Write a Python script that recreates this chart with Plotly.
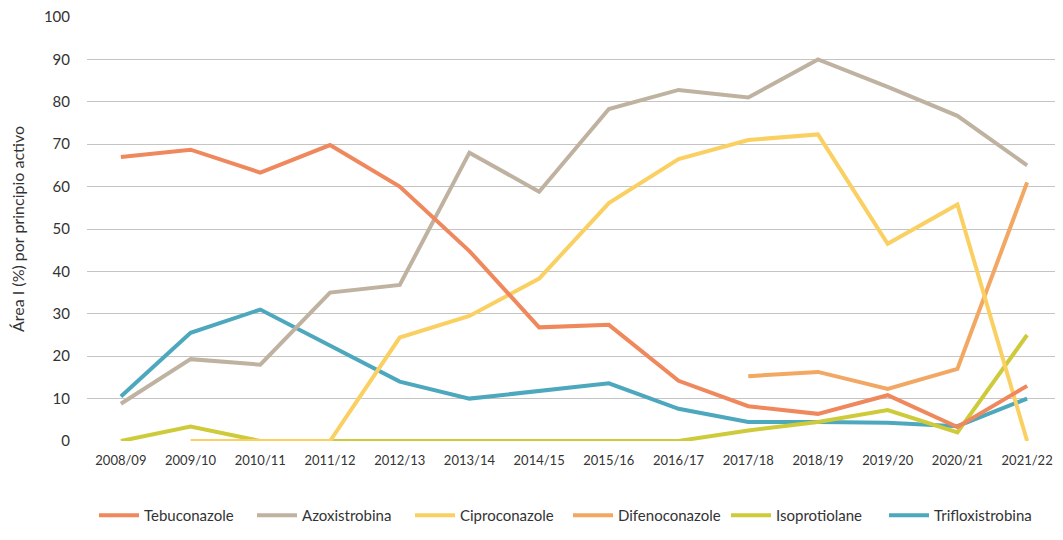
import plotly.graph_objects as go

seasons = ["2008/09", "2009/10", "2010/11", "2011/12", "2012/13", "2013/14", "2014/15",
           "2015/16", "2016/17", "2017/18", "2018/19", "2019/20", "2020/21", "2021/22"]

tebuconazole = [67.0, 68.7, 63.3, 69.8, 60.0, 44.8, 26.8, 27.4, 14.2, 8.2, 6.4, 10.8, 3.3, 13.0]
azoxistrobina = [8.8, 19.3, 18.0, 35.0, 36.8, 68.0, 58.8, 78.3, 82.8, 81.0, 90.0, 83.5, 76.7, 65.0]
ciproconazole = [None, 0, 0, 0, 24.4, 29.5, 38.3, 56.1, 66.5, 71.0, 72.3, 46.5, 55.8, 0]
difenoconazole = [None, None, None, None, None, None, None, None, None, 15.3, 16.3, 12.3, 17.0, 61.0]
isoprotiolane = [0, 3.4, 0, 0, 0, 0, 0, 0, 0, 2.5, 4.5, 7.3, 2.0, 25.0]
trifloxistrobina = [10.5, 25.5, 31.0, 22.5, 14.0, 10.0, 11.9, 13.6, 7.6, 4.5, 4.5, 4.3, 3.5, 10.0]

y_ticks = [0, 10, 20, 30, 40, 50, 60, 70, 80, 90, 100]

series = [
    ("Tebuconazole", tebuconazole, "#F0885D"),
    ("Azoxistrobina", azoxistrobina, "#BFB2A0"),
    ("Ciproconazole", ciproconazole, "#FAD062"),
    ("Difenoconazole", difenoconazole, "#F2A762"),
    ("Isoprotiolane", isoprotiolane, "#CECB3B"),
    ("Trifloxistrobina", trifloxistrobina, "#4DA8BE"),
]

fig = go.Figure()
for rank, (name, vals, col) in reversed(list(enumerate(series))):
    fig.add_trace(go.Scatter(
        x=list(range(len(seasons))), y=vals, name=name, mode="lines",
        line=dict(color=col, width=4), connectgaps=False,
        legendrank=rank + 1,
    ))

W, H = 1047, 524
L, T, B = 79, 9, 91
font_family = "Lato, 'Open Sans', sans-serif"
fig.update_layout(
    width=W, height=H,
    margin=dict(l=L, r=0, t=T, b=B, autoexpand=False),
    plot_bgcolor="white", paper_bgcolor="white",
    font=dict(family=font_family, color="#333333", size=14),
    showlegend=True,
    legend=dict(orientation="h", x=(86 - L) / (W - L), xanchor="left",
                yref="container", y=0.0, yanchor="bottom",
                font=dict(size=15, color="#333333"), itemwidth=40,
                entrywidth=103, traceorder="normal"),
    xaxis=dict(
        tickmode="array", tickvals=list(range(len(seasons))), ticktext=seasons,
        range=[-0.486, 13.40], showgrid=False, zeroline=False, showline=False,
        ticks="", ticklabelstandoff=10, tickfont=dict(size=13, color="#333333"),
        automargin=False, ticklabeloverflow="allow",
    ),
    yaxis=dict(
        range=[0, 100], tickvals=y_ticks, showgrid=True, gridcolor="#C4C4C4",
        gridwidth=1, zeroline=False, showline=False, ticks="",
        ticklabelstandoff=16, tickfont=dict(size=15, color="#333333"),
        automargin=False, ticklabeloverflow="allow",
        title=dict(text="Área I (%) por principio activo", font=dict(size=16, color="#333333"),
                   standoff=18),
    ),
)

fig.write_html("out.html")
